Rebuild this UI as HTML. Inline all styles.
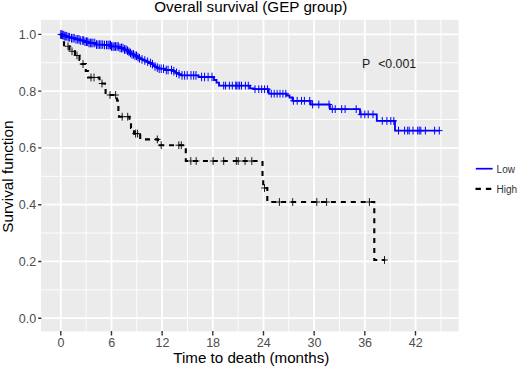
<!DOCTYPE html>
<html><head><meta charset="utf-8"><style>
html,body{margin:0;padding:0;background:#fff;width:520px;height:368px;overflow:hidden}
svg{display:block}
</style></head><body>
<svg width="520" height="368" viewBox="0 0 520 368">
<rect x="41.0" y="19.8" width="417.60" height="311.60" fill="#EBEBEB"/>
<path d="M41.0 289.82H458.6M41.0 233.06H458.6M41.0 176.30H458.6M41.0 119.54H458.6M41.0 62.78H458.6M86.13 19.8V331.4M136.81 19.8V331.4M187.48 19.8V331.4M238.14 19.8V331.4M288.81 19.8V331.4M339.49 19.8V331.4M390.16 19.8V331.4M440.83 19.8V331.4" stroke="#fff" stroke-width="0.9" fill="none"/>
<path d="M41.0 318.20H458.6M41.0 261.44H458.6M41.0 204.68H458.6M41.0 147.92H458.6M41.0 91.16H458.6M41.0 34.40H458.6M60.80 19.8V331.4M111.47 19.8V331.4M162.14 19.8V331.4M212.81 19.8V331.4M263.48 19.8V331.4M314.15 19.8V331.4M364.82 19.8V331.4M415.49 19.8V331.4" stroke="#fff" stroke-width="1.8" fill="none"/>
<path d="M38.2 318.20H41.4M38.2 261.44H41.4M38.2 204.68H41.4M38.2 147.92H41.4M38.2 91.16H41.4M38.2 34.40H41.4M60.80 331.1V335.6M111.47 331.1V335.6M162.14 331.1V335.6M212.81 331.1V335.6M263.48 331.1V335.6M314.15 331.1V335.6M364.82 331.1V335.6M415.49 331.1V335.6" stroke="#333" stroke-width="1.4" fill="none"/>
<path d="M60.8 34.40H61.5V40.5H64V46.3H69.5V51.3H75V55.5H79.5V60H81.5V64H85.8V71H88V77.5H99.5V83.5H105V89H105.6V95H117V100.5H117.8V106H118.4V111.5H119V116.7H129.5V122.5H131V128H134V133.6H140.2V139.4" stroke="#000" stroke-width="2.1" fill="none" stroke-dasharray="5 4.94"/>
<path d="M140.2 139.4H158V145.2H185.8V161H262.5V176H263.2V188H267.3V202H374.3V260H385.2" stroke="#000" stroke-width="2.1" fill="none" stroke-dasharray="5 4.94" stroke-dashoffset="5.14"/>
<path d="M64.70 46.3h6.6M68 42.40v7.8M68.70 51.3h6.6M72 47.40v7.8M73.70 55.5h6.6M77 51.60v7.8M79.70 64h6.6M83 60.10v7.8M87.70 77.5h6.6M91 73.60v7.8M90.70 77.5h6.6M94 73.60v7.8M98.70 83.5h6.6M102 79.60v7.8M106.70 95h6.6M110 91.10v7.8M112.30 95h6.6M115.6 91.10v7.8M118.90 116.7h6.6M122.2 112.80v7.8M124.40 116.7h6.6M127.7 112.80v7.8M132.30 133.6h6.6M135.6 129.70v7.8M134.30 133.6h6.6M137.6 129.70v7.8M154.00 139.4h6.6M157.3 135.50v7.8M157.90 145.2h6.6M161.2 141.30v7.8M175.50 145.2h6.6M178.8 141.30v7.8M178.00 145.2h6.6M181.3 141.30v7.8M187.50 161h6.6M190.8 157.10v7.8M192.90 161h6.6M196.2 157.10v7.8M209.80 161h6.6M213.1 157.10v7.8M220.40 161h6.6M223.7 157.10v7.8M233.00 161h6.6M236.3 157.10v7.8M234.90 161h6.6M238.2 157.10v7.8M241.80 161h6.6M245.1 157.10v7.8M248.50 161h6.6M251.8 157.10v7.8M261.20 188h6.6M264.5 184.10v7.8M276.10 202h6.6M279.4 198.10v7.8M289.40 202h6.6M292.7 198.10v7.8M313.50 202h6.6M316.8 198.10v7.8M323.30 202h6.6M326.6 198.10v7.8M366.10 202h6.6M369.4 198.10v7.8M381.20 260h6.6M384.5 256.10v7.8" stroke="#000" stroke-width="0.9" fill="none"/>
<path d="M60.3 34.40H61.90V35.20H64.50V36.20H67.83V37.20H71.47V38.20H75.47V39.35H79.83V40.50H84.15V41.75H88.45V43.00H95.30V44.60H103.00V45.00H111.00V46.50H118.50V48.00H123.50V49.50H126.67V50.67H128.00V51.83H129.33V53.00H131.33V54.40H134.00V55.80H136.67V57.20H139.17V58.30H141.50V59.40H143.83V60.50H146.25V61.75H148.75V63.00H151.00V64.17H153.00V65.33H155.00V66.50H157.00V67.60H159.00V68.70H165.00V70.00H172.50V71.20H175.50V72.80H178.50V74.20H181.00V75.40H198.50V77.00H214.00V80.00H216.50V82.70H219.00V85.60H250.00V88.30H254.00V89.20H268.80V93.70H286.50V95.50H289.50V97.50H292.50V100.80H310.70V104.50H329.90V109.10H360.00V114.40H376.80V120.90H395.00V130.60H439.3" stroke="#0000FF" stroke-width="1.8" fill="none"/>
<path d="M57.60 34.40h6.4M60.80 30.10v8.6M58.60 34.40h6.4M61.80 30.10v8.6M59.60 35.20h6.4M62.80 30.90v8.6M60.60 35.20h6.4M63.80 30.90v8.6M61.60 36.20h6.4M64.80 31.90v8.6M62.60 36.20h6.4M65.80 31.90v8.6M63.60 36.20h6.4M66.80 31.90v8.6M65.00 37.20h6.4M68.20 32.90v8.6M66.40 37.20h6.4M69.60 32.90v8.6M68.30 38.20h6.4M71.50 33.90v8.6M69.80 38.20h6.4M73.00 33.90v8.6M71.00 38.20h6.4M74.20 33.90v8.6M72.80 39.35h6.4M76.00 35.05v8.6M74.50 39.35h6.4M77.70 35.05v8.6M75.80 39.35h6.4M79.00 35.05v8.6M77.10 40.50h6.4M80.30 36.20v8.6M79.10 40.50h6.4M82.30 36.20v8.6M80.50 40.50h6.4M83.70 36.20v8.6M81.80 41.75h6.4M85.00 37.45v8.6M83.30 41.75h6.4M86.50 37.45v8.6M84.50 41.75h6.4M87.70 37.45v8.6M85.80 43.00h6.4M89.00 38.70v8.6M87.20 43.00h6.4M90.40 38.70v8.6M88.60 43.00h6.4M91.80 38.70v8.6M89.80 43.00h6.4M93.00 38.70v8.6M91.60 43.00h6.4M94.80 38.70v8.6M93.30 44.60h6.4M96.50 40.30v8.6M94.80 44.60h6.4M98.00 40.30v8.6M96.40 44.60h6.4M99.60 40.30v8.6M97.80 44.60h6.4M101.00 40.30v8.6M99.50 44.60h6.4M102.70 40.30v8.6M101.30 45.00h6.4M104.50 40.70v8.6M103.30 45.00h6.4M106.50 40.70v8.6M104.80 45.00h6.4M108.00 40.70v8.6M106.00 45.00h6.4M109.20 40.70v8.6M107.30 45.00h6.4M110.50 40.70v8.6M108.30 46.50h6.4M111.50 42.20v8.6M109.80 46.50h6.4M113.00 42.20v8.6M111.00 46.50h6.4M114.20 42.20v8.6M112.30 46.50h6.4M115.50 42.20v8.6M113.80 46.50h6.4M117.00 42.20v8.6M115.10 46.50h6.4M118.30 42.20v8.6M116.80 48.00h6.4M120.00 43.70v8.6M118.30 48.00h6.4M121.50 43.70v8.6M119.80 48.00h6.4M123.00 43.70v8.6M121.30 49.50h6.4M124.50 45.20v8.6M122.80 49.50h6.4M126.00 45.20v8.6M124.30 50.67h6.4M127.50 46.37v8.6M125.80 51.83h6.4M129.00 47.53v8.6M127.30 53.00h6.4M130.50 48.70v8.6M128.80 54.40h6.4M132.00 50.10v8.6M130.30 54.40h6.4M133.50 50.10v8.6M131.80 55.80h6.4M135.00 51.50v8.6M133.30 55.80h6.4M136.50 51.50v8.6M134.80 57.20h6.4M138.00 52.90v8.6M136.30 58.30h6.4M139.50 54.00v8.6M138.80 59.40h6.4M142.00 55.10v8.6M141.60 60.50h6.4M144.80 56.20v8.6M144.50 61.75h6.4M147.70 57.45v8.6M147.40 63.00h6.4M150.60 58.70v8.6M149.30 64.17h6.4M152.50 59.87v8.6M151.80 66.50h6.4M155.00 62.20v8.6M154.10 67.60h6.4M157.30 63.30v8.6M156.00 68.70h6.4M159.20 64.40v8.6M158.00 68.70h6.4M161.20 64.40v8.6M160.30 68.70h6.4M163.50 64.40v8.6M163.10 70.00h6.4M166.30 65.70v8.6M164.90 70.00h6.4M168.10 65.70v8.6M168.30 70.00h6.4M171.50 65.70v8.6M170.60 71.20h6.4M173.80 66.90v8.6M173.30 72.80h6.4M176.50 68.50v8.6M175.80 74.20h6.4M179.00 69.90v8.6M178.80 75.40h6.4M182.00 71.10v8.6M181.40 75.40h6.4M184.60 71.10v8.6M184.00 75.40h6.4M187.20 71.10v8.6M187.80 75.40h6.4M191.00 71.10v8.6M190.50 75.40h6.4M193.70 71.10v8.6M192.80 75.40h6.4M196.00 71.10v8.6M198.40 77.00h6.4M201.60 72.70v8.6M201.40 77.00h6.4M204.60 72.70v8.6M204.90 77.00h6.4M208.10 72.70v8.6M208.80 77.00h6.4M212.00 72.70v8.6M220.50 85.60h6.4M223.70 81.70v7.8M222.40 85.60h6.4M225.60 81.70v7.8M226.20 85.60h6.4M229.40 81.70v7.8M229.10 85.60h6.4M232.30 81.70v7.8M233.00 85.60h6.4M236.20 81.70v7.8M234.80 85.60h6.4M238.00 81.70v7.8M232.60 85.60h6.4M235.80 81.70v7.8M236.40 85.60h6.4M239.60 81.70v7.8M238.30 85.60h6.4M241.50 81.70v7.8M242.20 85.60h6.4M245.40 81.70v7.8M245.10 85.60h6.4M248.30 81.70v7.8M251.80 89.20h6.4M255.00 85.30v7.8M255.60 89.20h6.4M258.80 85.30v7.8M258.50 89.20h6.4M261.70 85.30v7.8M261.40 89.20h6.4M264.60 85.30v7.8M264.30 89.20h6.4M267.50 85.30v7.8M268.10 93.70h6.4M271.30 89.80v7.8M271.00 93.70h6.4M274.20 89.80v7.8M273.90 93.70h6.4M277.10 89.80v7.8M276.80 93.70h6.4M280.00 89.80v7.8M279.70 93.70h6.4M282.90 89.80v7.8M282.60 93.70h6.4M285.80 89.80v7.8M290.20 100.80h6.4M293.40 96.90v7.8M294.00 100.80h6.4M297.20 96.90v7.8M298.30 100.80h6.4M301.50 96.90v7.8M301.20 100.80h6.4M304.40 96.90v7.8M306.50 100.80h6.4M309.70 96.90v7.8M309.40 104.50h6.4M312.60 100.60v7.8M315.60 104.50h6.4M318.80 100.60v7.8M325.80 104.50h6.4M329.00 100.60v7.8M329.10 109.10h6.4M332.30 105.20v7.8M332.00 109.10h6.4M335.20 105.20v7.8M338.50 109.10h6.4M341.70 105.20v7.8M341.90 109.10h6.4M345.10 105.20v7.8M353.00 109.10h6.4M356.20 105.20v7.8M357.80 114.40h6.4M361.00 110.50v7.8M361.60 114.40h6.4M364.80 110.50v7.8M365.00 114.40h6.4M368.20 110.50v7.8M369.80 114.40h6.4M373.00 110.50v7.8M379.10 120.90h6.4M382.30 117.00v7.8M383.70 120.90h6.4M386.90 117.00v7.8M387.60 120.90h6.4M390.80 117.00v7.8M390.60 120.90h6.4M393.80 117.00v7.8M395.30 130.60h6.4M398.50 126.70v7.8M401.40 130.60h6.4M404.60 126.70v7.8M404.50 130.60h6.4M407.70 126.70v7.8M406.00 130.60h6.4M409.20 126.70v7.8M409.80 130.60h6.4M413.00 126.70v7.8M414.50 130.60h6.4M417.70 126.70v7.8M416.00 130.60h6.4M419.20 126.70v7.8M417.60 130.60h6.4M420.80 126.70v7.8M422.20 130.60h6.4M425.40 126.70v7.8M431.40 130.60h6.4M434.60 126.70v7.8M436.10 130.60h6.4M439.30 126.70v7.8" stroke="#0000FF" stroke-width="1" fill="none"/>
<path d="M475.8 168.7H492.6" stroke="#0000FF" stroke-width="1.7"/>
<path d="M475.5 188.8H491.5" stroke="#000" stroke-width="2.2" stroke-dasharray="5.4 5"/>
<rect x="360.8" y="55.5" width="54" height="15" fill="#EBEBEB"/>
<g style="font-family:'Liberation Sans', sans-serif"><text x="36.1" y="322.60" text-anchor="end" font-size="12.5" fill="#4D4D4D">0.0</text><text x="36.1" y="265.84" text-anchor="end" font-size="12.5" fill="#4D4D4D">0.2</text><text x="36.1" y="209.08" text-anchor="end" font-size="12.5" fill="#4D4D4D">0.4</text><text x="36.1" y="152.32" text-anchor="end" font-size="12.5" fill="#4D4D4D">0.6</text><text x="36.1" y="95.56" text-anchor="end" font-size="12.5" fill="#4D4D4D">0.8</text><text x="36.1" y="38.80" text-anchor="end" font-size="12.5" fill="#4D4D4D">1.0</text><text x="61.10" y="347.0" text-anchor="middle" font-size="12.5" fill="#4D4D4D">0</text><text x="111.77" y="347.0" text-anchor="middle" font-size="12.5" fill="#4D4D4D">6</text><text x="162.44" y="347.0" text-anchor="middle" font-size="12.5" fill="#4D4D4D">12</text><text x="213.11" y="347.0" text-anchor="middle" font-size="12.5" fill="#4D4D4D">18</text><text x="263.78" y="347.0" text-anchor="middle" font-size="12.5" fill="#4D4D4D">24</text><text x="314.45" y="347.0" text-anchor="middle" font-size="12.5" fill="#4D4D4D">30</text><text x="365.12" y="347.0" text-anchor="middle" font-size="12.5" fill="#4D4D4D">36</text><text x="415.79" y="347.0" text-anchor="middle" font-size="12.5" fill="#4D4D4D">42</text><text x="250.8" y="12.1" text-anchor="middle" font-size="15.2" fill="#000">Overall survival (GEP group)</text><text x="251.3" y="363.2" text-anchor="middle" font-size="15.15" fill="#000">Time to death (months)</text><text transform="translate(13.3 176.6) rotate(-90)" text-anchor="middle" font-size="15.3" fill="#000">Survival function</text><text x="362" y="67.6" font-size="12.3" fill="#1a1a1a">P</text><text x="378.2" y="67.6" font-size="12.3" fill="#1a1a1a">&lt;0.001</text><text x="496.6" y="173.1" font-size="10" fill="#333">Low</text><text x="496.6" y="192.6" font-size="10" fill="#333">High</text></g>
</svg>
</body></html>
